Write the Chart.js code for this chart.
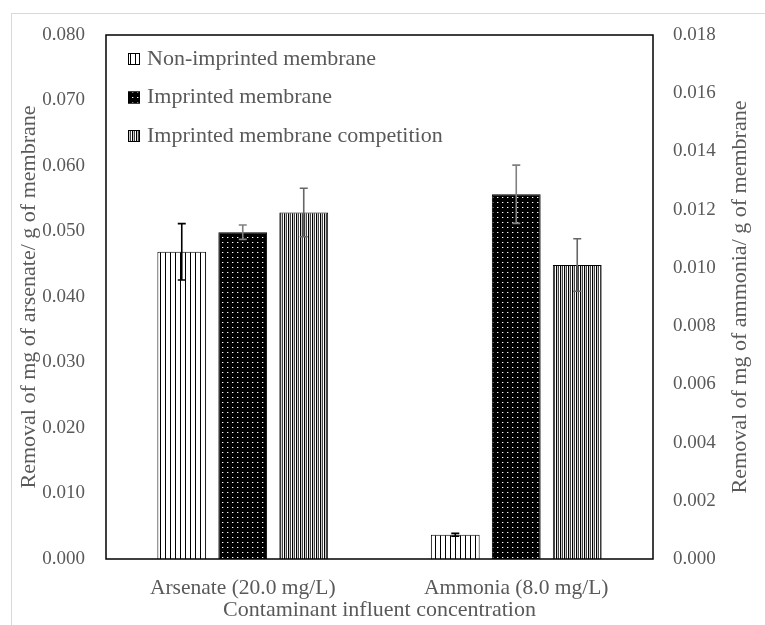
<!DOCTYPE html>
<html>
<head>
<meta charset="utf-8">
<script src="https://cdn.jsdelivr.net/npm/chart.js@4.4.1/dist/chart.umd.min.js"></script>
<style>
  body { margin: 0; background: #fff; }
  canvas { display: block; }
</style>
</head>
<body>
<canvas id="myChart" width="765" height="625"></canvas>
<script>
// categories on the x axis
let categories = ['Arsenate (20.0 mg/L)', 'Ammonia (8.0 mg/L)'];
let seriesNames = ['Non-imprinted membrane', 'Imprinted membrane', 'Imprinted membrane competition'];

// arsenate uses the left axis, ammonia the right one
let arsenate = [0.0469, 0.0499, 0.0529];
let arsenateErr = [0.0043, 0.0011, 0.0037];
let ammonia = [0.00083, 0.01253, 0.0101];
let ammoniaErr = [0.00005, 0.0010, 0.0009];

let leftTicks = { min: 0, max: 0.08, step: 0.01 };
let rightTicks = { min: 0, max: 0.018, step: 0.002 };

let leftTitle = 'Removal of mg of arsenate/ g of membrane';
let rightTitle = 'Removal of mg of ammonia/ g of membrane';
let xTitle = 'Contaminant influent concentration';

const textColor = '#595959';
const errColors = ['#000000', '#808080', '#666666'];

function makePattern(w, h, draw) {
    const c = document.createElement('canvas');
    c.width = w;
    c.height = h;
    const g = c.getContext('2d');
    draw(g);
    return g.createPattern(c, 'repeat');
}

// white with thin vertical lines
const patWide = makePattern(5, 1, function (g) {
    g.fillStyle = '#fff';
    g.fillRect(0, 0, 5, 1);
    g.fillStyle = '#000';
    g.fillRect(0, 0, 1, 1);
});
// black with small white dots
const patDots = makePattern(5, 5, function (g) {
    g.fillStyle = '#000';
    g.fillRect(0, 0, 5, 5);
    g.fillStyle = '#fff';
    g.fillRect(2, 2, 1, 1);
    g.fillStyle = '#555';
    g.fillRect(3, 2, 1, 1);
});
// dense vertical lines
const patDense = makePattern(4, 1, function (g) {
    const cols = ['#000', '#ccc', '#444', '#fff'];
    for (let i = 0; i < 4; i++) {
        g.fillStyle = cols[i];
        g.fillRect(i, 0, 1, 1);
    }
});
const patterns = [patWide, patDots, patDense];

let datasets = [];
for (let i = 0; i < 3; i++) {
    datasets.push({
        label: seriesNames[i],
        data: [arsenate[i], null],
        err: [arsenateErr[i], null],
        yAxisID: 'y',
        stack: 's' + i,
        backgroundColor: patterns[i],
        borderColor: '#000',
        borderWidth: 1,
        categoryPercentage: 0.669,
        barPercentage: 0.8
    });
}
for (let i = 0; i < 3; i++) {
    datasets.push({
        label: seriesNames[i],
        data: [null, ammonia[i]],
        err: [null, ammoniaErr[i]],
        yAxisID: 'y2',
        stack: 's' + i,
        backgroundColor: patterns[i],
        borderColor: '#000',
        borderWidth: 1,
        categoryPercentage: 0.669,
        barPercentage: 0.8
    });
}

// grey outer border + white background
const outerBox = {
    id: 'outerBox',
    beforeDraw(chart) {
        const ctx = chart.ctx;
        ctx.save();
        ctx.fillStyle = '#fff';
        ctx.fillRect(0, 0, chart.width, chart.height);
        ctx.strokeStyle = '#d9d9d9';
        ctx.lineWidth = 1;
        ctx.strokeRect(11.5, 13.5, 800, 700);
        ctx.restore();
    }
};

// black frame around the plot area
const plotFrame = {
    id: 'plotFrame',
    afterDatasetsDraw(chart) {
        const a = chart.chartArea;
        const ctx = chart.ctx;
        ctx.save();
        ctx.strokeStyle = '#000';
        ctx.lineWidth = 1.5;
        ctx.strokeRect(a.left, a.top, a.right - a.left, a.bottom - a.top);
        ctx.restore();
    }
};

const errorBars = {
    id: 'errorBars',
    afterDatasetsDraw(chart) {
        const ctx = chart.ctx;
        ctx.save();
        ctx.lineWidth = 1.6;
        chart.data.datasets.forEach(function (ds, d) {
            const meta = chart.getDatasetMeta(d);
            const scale = chart.scales[ds.yAxisID];
            ds.data.forEach(function (v, j) {
                if (v === null) return;
                const e = ds.err[j];
                const x = meta.data[j].x;
                const yTop = scale.getPixelForValue(v + e);
                const yBot = scale.getPixelForValue(v - e);
                ctx.strokeStyle = errColors[d % 3];
                ctx.beginPath();
                ctx.moveTo(x, yTop);
                ctx.lineTo(x, yBot);
                ctx.moveTo(x - 4, yTop);
                ctx.lineTo(x + 4, yTop);
                ctx.moveTo(x - 4, yBot);
                ctx.lineTo(x + 4, yBot);
                ctx.stroke();
            });
        });
        ctx.restore();
    }
};

// legend inside the plot, top left, and the right axis title (reads bottom-up)
const innerLegend = {
    id: 'innerLegend',
    afterDraw(chart) {
        const a = chart.chartArea;
        const ctx = chart.ctx;
        ctx.save();
        ctx.font = "22px 'Liberation Serif'";
        ctx.textBaseline = 'middle';
        ctx.textAlign = 'left';
        for (let i = 0; i < 3; i++) {
            const cy = a.top + 24 + i * 38.5;
            const bx = a.left + 22;
            ctx.fillStyle = patterns[i];
            ctx.fillRect(bx, cy - 6, 12, 12);
            ctx.strokeStyle = '#000';
            ctx.lineWidth = 1;
            ctx.strokeRect(bx + 0.5, cy - 5.5, 11, 11);
            ctx.fillStyle = textColor;
            ctx.fillText(seriesNames[i], bx + 19, cy);
        }
        ctx.translate(740, (a.top + a.bottom) / 2);
        ctx.rotate(-Math.PI / 2);
        ctx.textAlign = 'center';
        ctx.fillText(rightTitle, 0, 0);
        ctx.restore();
    }
};

Chart.defaults.font.family = "'Liberation Serif', serif";
Chart.defaults.color = textColor;

const config = {
    type: 'bar',
    data: {
        labels: categories,
        datasets: datasets
    },
    options: {
        responsive: false,
        animation: false,
        layout: { padding: { left: 0, right: 0, top: 35, bottom: 0 } },
        plugins: {
            legend: { display: false },
            tooltip: { enabled: false }
        },
        scales: {
            x: {
                grid: { display: false, drawTicks: false },
                border: { display: false },
                ticks: { font: { size: 21.5 }, color: textColor, padding: 16 },
                title: {
                    display: true,
                    text: xTitle,
                    font: { size: 22 },
                    color: textColor,
                    padding: { top: 0, bottom: 2 }
                },
                afterFit(s) { s.height = 66; }
            },
            y: {
                position: 'left',
                min: leftTicks.min,
                max: leftTicks.max,
                grid: { display: false, drawTicks: false },
                border: { display: false },
                ticks: {
                    stepSize: leftTicks.step,
                    font: { size: 19 },
                    color: textColor,
                    padding: 21,
                    callback: function (v) { return v.toFixed(3); }
                },
                title: {
                    display: true,
                    text: leftTitle,
                    font: { size: 22 },
                    color: textColor,
                    padding: { top: 16, bottom: 0 }
                },
                afterFit(s) { s.width = 106; }
            },
            y2: {
                position: 'right',
                min: rightTicks.min,
                max: rightTicks.max,
                grid: { display: false, drawTicks: false },
                border: { display: false },
                ticks: {
                    stepSize: rightTicks.step,
                    font: { size: 19 },
                    color: textColor,
                    padding: 20,
                    callback: function (v) { return v.toFixed(3); }
                },
                afterFit(s) { s.width = 112; }
            }
        }
    },
    plugins: [outerBox, plotFrame, errorBars, innerLegend]
};

const myChart = new Chart(document.getElementById('myChart'), config);
</script>
</body>
</html>
